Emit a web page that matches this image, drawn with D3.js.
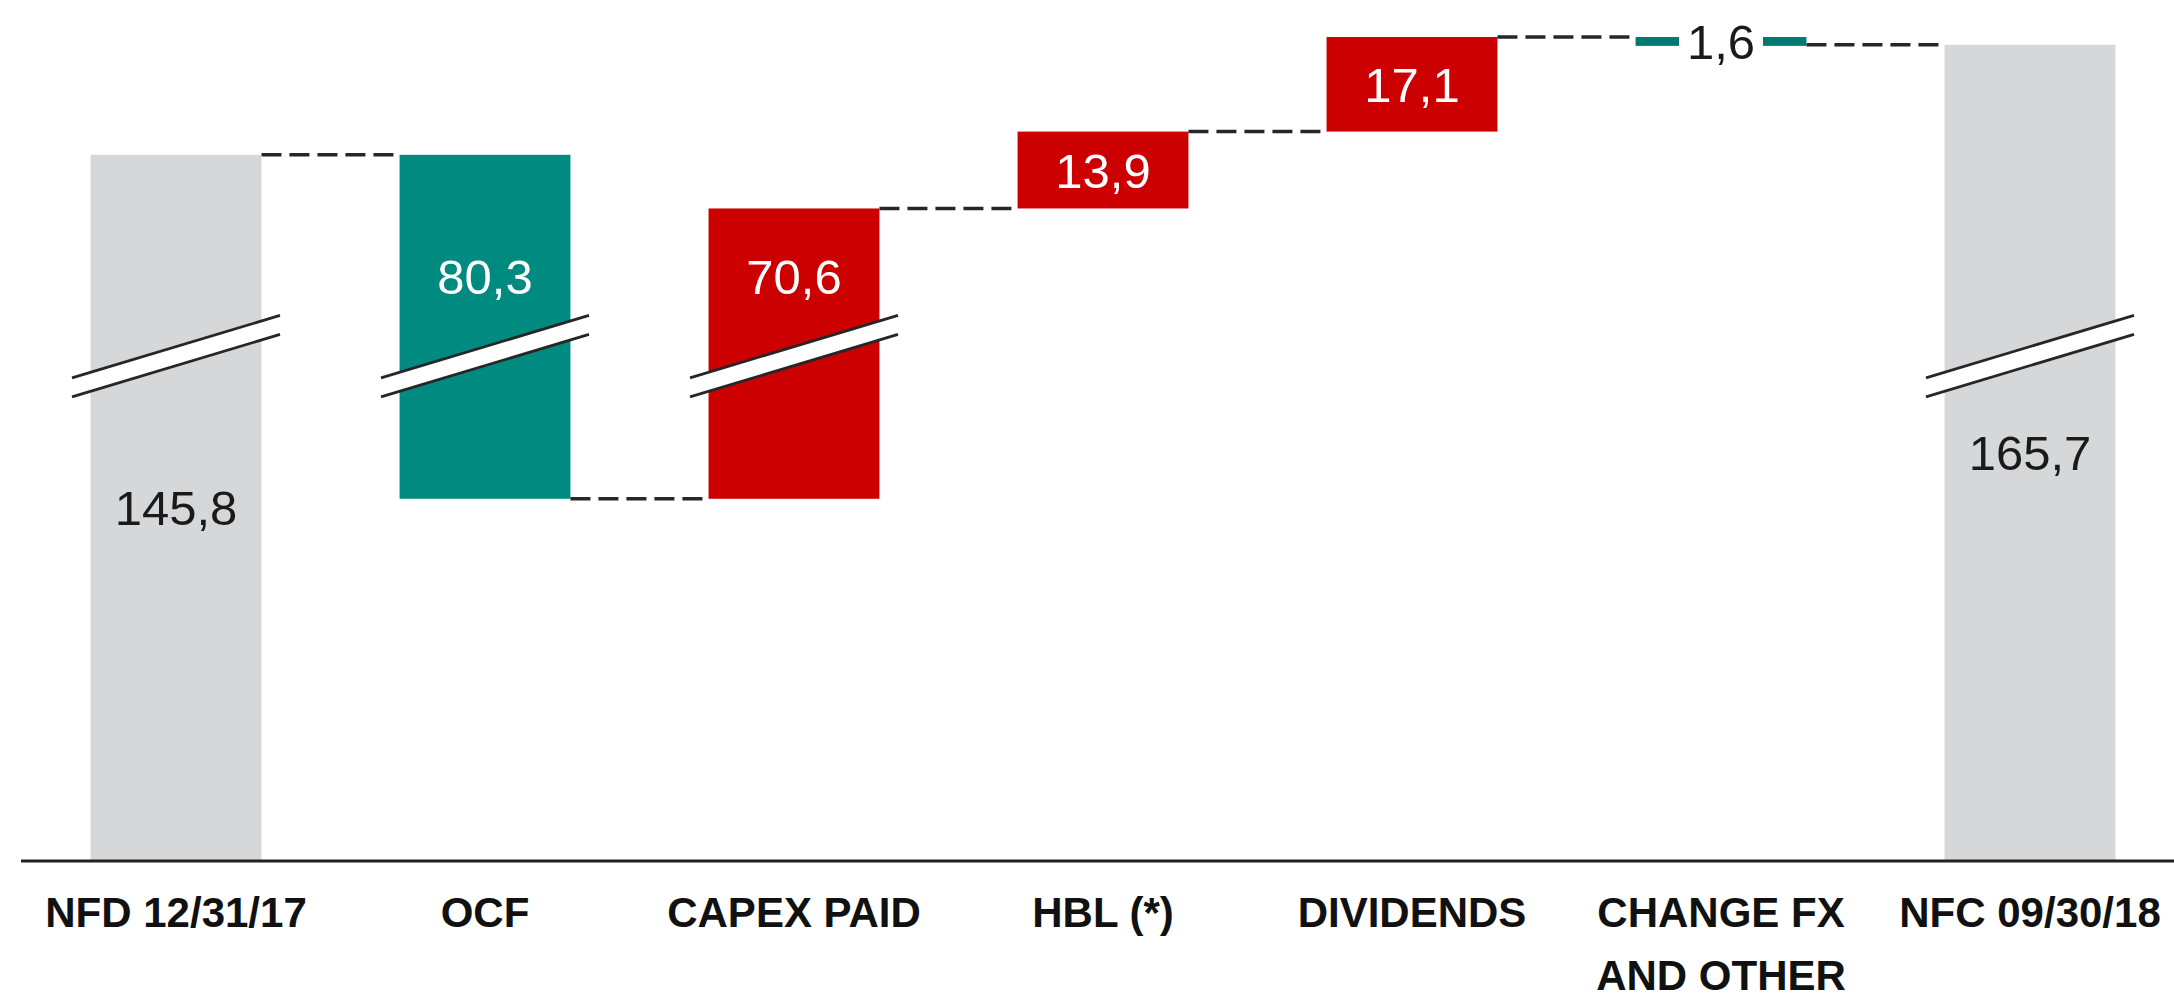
<!DOCTYPE html>
<html lang="en">
	<head>
		<meta charset="utf-8">
		<title>Net financial debt bridge</title>
		<script type="text/javascript" src="https://cdn.jsdelivr.net/npm/d3@7/dist/d3.min.js"></script>
		<style type="text/css">
			body { margin: 0; background: #fff; }
			svg text { font-family: "Liberation Sans", Arial, sans-serif; }
		</style>
	</head>

	<body>
		<script type="text/javascript">
			/* chart data */
			var categories = ["NFD 12/31/17", "OCF", "CAPEX PAID", "HBL (*)", "DIVIDENDS", "CHANGE FX\nAND OTHER", "NFC 09/30/18"];
			var values = [145.8, -80.3, 70.6, 13.9, 17.1, -1.6, 165.7];
			var kinds = ["total", "down", "up", "up", "up", "down", "total"];
			var brokenBars = ["NFD 12/31/17", "OCF", "CAPEX PAID", "NFC 09/30/18"];

			var svgWidth = 2174;
			var svgHeight = 998;
			var axisY = 861;

			/* broken value axis: the stretch between breakLo and breakHi is cut out */
			var pxPerUnit = 5.53;
			var breakLo = 91.3, breakHi = 109.4, yMax = 170;
			var breakY = axisY - pxPerUnit * breakLo;
			var y = d3.scaleLinear()
				.domain([0, breakLo, breakHi, yMax])
				.range([axisY, breakY, breakY, breakY - pxPerUnit * (yMax - breakHi)]);

			var x = d3.scaleBand()
				.domain(categories)
				.range([21.5, 2184.5])
				.paddingInner(0.447)
				.paddingOuter(0.2235);
			var bw = x.bandwidth();

			var colors = { total: "#d6d7d9", up: "#cc0000", down: "#008a80" };
			var fmt = d3.formatLocale({ decimal: ",", thousands: ".", grouping: [3], currency: ["", ""] }).format(".1f");

			/* running totals: each step starts where the previous one ended */
			var steps = [];
			var level = 0;
			categories.forEach(function(c, i) {
				var v = values[i];
				var s, e;
				if (kinds[i] == "total") { s = 0; e = v; level = v; }
				else { s = level; e = level + (kinds[i] == "up" ? Math.abs(v) : -Math.abs(v)); level = e; }
				steps.push({ cat: c, kind: kinds[i], value: v, start: s, end: e,
					broken: brokenBars.indexOf(c) >= 0 });
			});

			var svg = d3.select("body")
				.append("svg")
				.attr("width", svgWidth)
				.attr("height", svgHeight);

			/* dashed connectors between bars */
			svg.selectAll("line.conn")
				.data(steps.slice(0, -1))
				.enter()
				.append("line")
				.attr("class", "conn")
				.attr("x1", function(d) { return x(d.cat) + bw; })
				.attr("x2", function(d, i) { return x(categories[i + 1]); })
				.attr("y1", function(d, i) { return y(steps[i + 1].kind == "total" ? steps[i + 1].value : d.end); })
				.attr("y2", function(d, i) { return y(steps[i + 1].kind == "total" ? steps[i + 1].value : d.end); })
				.attr("stroke", "#262626")
				.attr("stroke-width", 3.5)
				.attr("stroke-dasharray", "20,8");

			svg.selectAll("rect.bar")
				.data(steps)
				.enter()
				.append("rect")
				.attr("class", "bar")
				.attr("x", function(d) { return x(d.cat); })
				.attr("y", function(d) { return y(Math.max(d.start, d.end)); })
				.attr("width", bw)
				.attr("height", function(d) { return Math.abs(y(d.start) - y(d.end)); })
				.attr("fill", function(d) {
					if (Math.abs(d.value) < 5) return "#007a70";
					return colors[d.kind];
				});

			/* break marks across the cut bars */
			var half = 104, slope = 0.3, gap = 9.5;
			var marks = svg.selectAll("g.brk")
				.data(steps.filter(function(d) { return d.broken; }))
				.enter()
				.append("g")
				.attr("class", "brk")
				.attr("transform", function(d) { return "translate(" + (x(d.cat) + bw / 2) + "," + breakY + ")"; });
			marks.append("path")
				.attr("d", "M" + (-half) + "," + (half * slope - gap) + "L" + half + "," + (-half * slope - gap)
					+ "L" + half + "," + (-half * slope + gap) + "L" + (-half) + "," + (half * slope + gap) + "Z")
				.attr("fill", "#fff");
			[-gap, gap].forEach(function(off) {
				marks.append("line")
					.attr("x1", -half).attr("y1", half * slope + off)
					.attr("x2", half).attr("y2", -half * slope + off)
					.attr("stroke", "#262626")
					.attr("stroke-width", 2.8);
			});

			/* white gap behind the label of the thin bar */
			svg.selectAll("rect.lblbg")
				.data(steps.filter(function(d) { return Math.abs(d.value) < 5; }))
				.enter()
				.append("rect")
				.attr("class", "lblbg")
				.attr("x", function(d) { return x(d.cat) + bw / 2 - 42; })
				.attr("y", function(d) { return y(d.start) - 30; })
				.attr("width", 84)
				.attr("height", 60)
				.attr("fill", "#fff");

			/* value labels */
			svg.selectAll("text.val")
				.data(steps)
				.enter()
				.append("text")
				.attr("class", "val")
				.text(function(d) { return fmt(Math.abs(d.value)); })
				.attr("text-anchor", "middle")
				.attr("x", function(d) { return x(d.cat) + bw / 2; })
				.attr("y", function(d) {
					if (d.broken && d.kind != "total") return breakY - 62;
					return (y(d.start) + y(d.end)) / 2 + 17.5;
				})
				.attr("font-size", "49px")
				.attr("fill", function(d) {
					return (d.kind == "total" || Math.abs(d.value) < 5) ? "#1a1a1a" : "#fff";
				});

			/* category axis */
			var axis = svg.append("g")
				.attr("transform", "translate(0," + axisY + ")")
				.call(d3.axisBottom(x).tickSize(0).tickSizeOuter(0).tickPadding(36));
			axis.select(".domain")
				.attr("stroke", "#222")
				.attr("stroke-width", 3)
				.attr("d", "M21,0H2174");
			axis.selectAll(".tick text")
				.attr("font-size", "42px")
				.attr("font-weight", "bold")
				.attr("fill", "#111")
				.each(function(d) {
					var t = d3.select(this);
					var lines = d.split("\n");
					t.text(null);
					lines.forEach(function(l, j) {
						t.append("tspan")
							.attr("x", 0)
							.attr("dy", j == 0 ? "0.71em" : "63px")
							.text(l);
					});
				});
		</script>
	</body>
</html>
